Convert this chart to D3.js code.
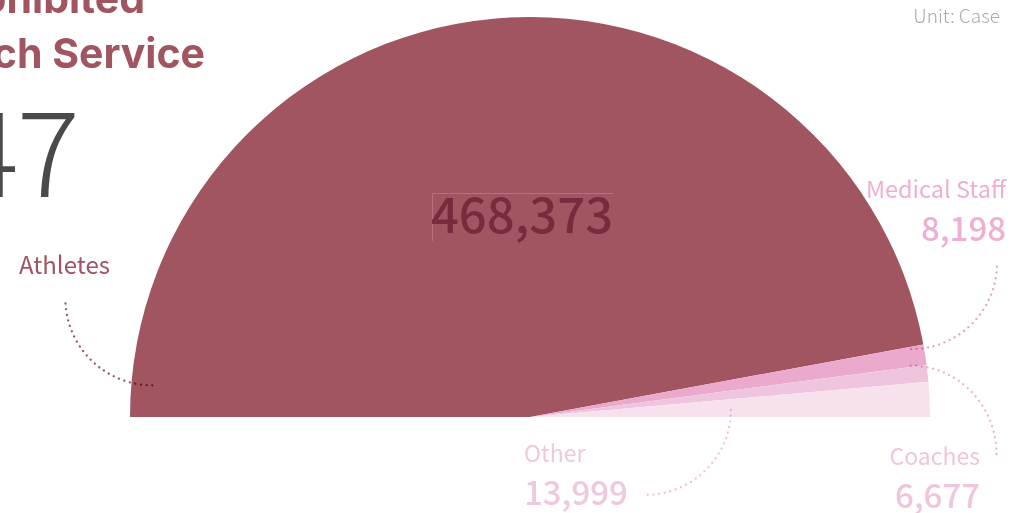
<!DOCTYPE html>
<html><head><meta charset="utf-8">
<script src="https://cdn.jsdelivr.net/npm/d3@7/dist/d3.min.js"></script>
<style>
html,body{margin:0;padding:0;background:#fff;overflow:hidden}
svg{display:block}
</style></head>
<body>
<svg id="c" width="1012" height="513"></svg>
<script>
const categories = ["Athletes", "Medical Staff", "Coaches", "Other"];
const values = [468373, 8198, 6677, 13999];
const colors = ["#a05561", "#eaa9cd", "#efc5dd", "#f6e1ed"];
const labelColors = ["#a05561", "#eeafd2", "#efc5de", "#efc8e0"];
const dotColors = ["#a05561", "#e9a3ca", "#ebb3d3", "#f0c3dc"];
const totalLabel = "497,247";
const titleLines = ["Prohibited", "Approach Service"];
const unitLabel = "Unit: Case";

const svg = d3.select("#c");
const cx = 530, cy = 417, R = 400;

const fmt = d3.format(",");
const data = categories.map((c, i) => ({cat: c, value: values[i], i}));
const pie = d3.pie().value(d => d.value).sort(null)
  .startAngle(-Math.PI / 2).endAngle(Math.PI / 2);
const arc = d3.arc().innerRadius(0).outerRadius(R);
const arcs = pie(data);

const g = svg.append("g").attr("transform", `translate(${cx},${cy})`);
g.selectAll("path.slice").data(arcs).join("path")
  .attr("class", "slice")
  .attr("d", arc)
  .attr("fill", d => colors[d.data.i]);

// Title
const title = svg.append("g").attr("font-family", "Inter, sans-serif")
  .attr("font-weight", 700).attr("fill", "#a05561").attr("font-size", 41)
  .attr("text-anchor", "end");
title.append("text").attr("x", 145).attr("y", 13).text(titleLines[0]);
title.append("text").attr("x", 205).attr("y", 68).text(titleLines[1]);

// Total
svg.append("text").attr("x", 78).attr("y", 197)
  .attr("text-anchor", "end").attr("font-family", "'Noto Sans CJK KR', sans-serif")
  .attr("font-weight", 300).attr("font-size", 118).attr("fill", "#4a4a4a")
  .attr("letter-spacing", -2)
  .text(totalLabel);

// Unit
svg.append("text").attr("x", 1000).attr("y", 23).attr("text-anchor", "end")
  .attr("font-family", "'Noto Sans CJK KR', sans-serif").attr("font-weight", 300)
  .attr("font-size", 19).attr("fill", "#aaaaaa").text(unitLabel);

// Leader lines (annotations): polar anchor on the pie, then a quarter arc
function polar(r, a) { return [cx + r * Math.sin(a), cy - r * Math.cos(a)]; }
const deg = Math.PI / 180;
const leaders = [
  {i: 0, r: 379, a: -85.2 * deg, dx: -87, dy: -87, sweep: 1},
  {i: 1, r: 387, a: 79.9 * deg, dx: 86, dy: -86, sweep: 0},
  {i: 2, r: 384, a: 82.3 * deg, dx: 86, dy: 89, sweep: 1},
  {i: 3, r: 201, a: 88 * deg, dx: -86, dy: 85, sweep: 1}
];
leaders.forEach(L => {
  const [x0, y0] = polar(L.r, L.a);
  const p = `M${x0},${y0} A${Math.abs(L.dx)},${Math.abs(L.dy)} 0 0 ${L.sweep} ${x0 + L.dx},${y0 + L.dy}`;
  svg.append("path").attr("d", p).attr("fill", "none")
    .attr("stroke", dotColors[L.i]).attr("stroke-width", 2.3)
    .attr("stroke-linecap", "round").attr("stroke-dasharray", "0.1 5.6")
    .style("mix-blend-mode", "multiply");
});

// Labels
const labFont = "'Noto Sans CJK KR', sans-serif";
function label(x, y, anchor, i, nameSize, valSize, gap, showVal) {
  const t = svg.append("g").attr("font-family", labFont).attr("text-anchor", anchor)
    .attr("fill", labelColors[i]);
  t.append("text").attr("x", x).attr("y", y).attr("font-size", nameSize)
    .attr("font-weight", 400).text(categories[i]);
  if (showVal) t.append("text").attr("x", x).attr("y", y + gap).attr("font-size", valSize)
    .attr("font-weight", 500).text(fmt(values[i]));
}
label(19, 274, "start", 0, 24, 0, 0, false);
label(1006, 198, "end", 1, 23.5, 33, 43, true);
label(980, 465, "end", 2, 23, 33, 43, true);
label(524, 462, "start", 3, 23, 33, 43, true);

// Center value for Athletes
svg.append("path").attr("d", `M432.5,241 V193.5 H613`).attr("fill", "none")
  .attr("stroke", "#c4848f").attr("stroke-width", 1).attr("opacity", 0.6);
svg.append("text").attr("x", 522).attr("y", 233).attr("text-anchor", "middle")
  .attr("font-family", labFont).attr("font-weight", 500).attr("font-size", 49)
  .attr("fill", "#7a2a3d").text(fmt(values[0]));
</script>
</body></html>
